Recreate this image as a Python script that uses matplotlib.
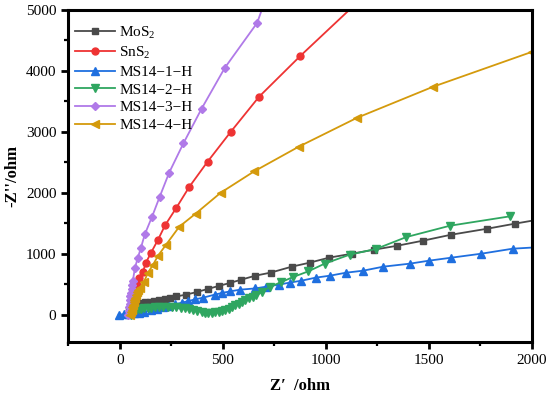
import matplotlib
matplotlib.use("Agg")
import matplotlib.pyplot as plt
from matplotlib.ticker import MultipleLocator

plt.rcParams['font.family'] = ['Liberation Serif', 'DejaVu Serif']
plt.rcParams['mathtext.fontset'] = 'custom'
plt.rcParams['mathtext.rm'] = 'Liberation Serif'

# MoS2
mos2_x = [45, 55, 65, 78, 92, 108, 125, 145, 168, 192, 218, 245, 275, 324, 373, 426, 480,
          535, 590, 658, 732, 835, 921, 1015, 1127, 1235, 1348, 1471, 1608, 1784, 1917, 2050]
mos2_y = [80, 105, 125, 145, 165, 185, 200, 215, 230, 245, 262, 280, 298, 330, 370, 420, 470,
          520, 574, 639, 689, 787, 852, 934, 1000, 1066, 1131, 1213, 1311, 1410, 1492, 1570]

# SnS2
sns2_x = [50, 53, 56, 60, 64, 68, 73, 79, 85, 93, 113, 127, 152, 186, 220, 275, 338, 426,
          539, 676, 877, 1130]
sns2_y = [10, 60, 120, 180, 240, 300, 360, 420, 490, 607, 705, 852, 1016, 1230, 1465, 1754,
          2098, 2508, 3000, 3574, 4246, 5050]

# MS14-1-H
ms1_x = [-5, 20, 45, 70, 95, 120, 150, 180, 210, 240, 270, 300, 330, 365, 405, 461, 495,
         536, 585, 657, 711, 773, 824, 882, 951, 1020, 1098, 1181, 1279, 1407, 1500, 1608,
         1755, 1907, 2050]
ms1_y = [0, 5, 12, 22, 35, 50, 70, 95, 120, 145, 170, 195, 220, 250, 279, 328, 355,
         382, 410, 430, 459, 492, 525, 557, 607, 639, 688, 721, 787, 836, 885, 934,
         1000, 1082, 1110]

# MS14-2-H
ms2_x = [55, 62, 70, 80, 92, 105, 120, 135, 152, 170, 190, 210, 234, 255, 275, 295, 315,
         335, 355, 375, 397, 415, 430, 447, 463, 480, 495, 512, 528, 545, 560, 577, 593,
         610, 626, 645, 659, 691, 727, 781, 842, 915, 994, 1116, 1243, 1391, 1603, 1892]
ms2_y = [0, 25, 50, 70, 85, 95, 103, 108, 112, 118, 122, 125, 125, 122, 118, 112, 105,
         95, 82, 65, 48, 35, 28, 30, 38, 48, 60, 80, 100, 125, 150, 180, 210,
         240, 268, 295, 317, 372, 454, 530, 618, 710, 836, 984, 1077, 1273, 1459, 1612]

# MS14-3-H
ms3_x = [42, 44, 46, 48, 50, 52, 55, 58, 61, 64, 74, 88, 103, 122, 157, 194, 240, 309,
         397, 510, 667, 705]
ms3_y = [0, 60, 120, 180, 240, 300, 360, 420, 480, 560, 770, 934, 1098, 1320, 1607, 1934,
         2330, 2810, 3377, 4049, 4787, 5150]

# MS14-4-H
ms4_x = [52, 55, 58, 61, 64, 67, 70, 74, 78, 83, 88, 98, 118, 137, 162, 186, 225, 289,
         368, 490, 652, 868, 1152, 1520, 2000]
ms4_y = [0, 40, 80, 120, 160, 200, 240, 280, 320, 370, 410, 443, 541, 688, 820, 967,
         1148, 1443, 1656, 2000, 2350, 2754, 3230, 3738, 4311]

labels = [r'MoS$_2$', r'SnS$_2$', 'MS14−1−H', 'MS14−2−H', 'MS14−3−H', 'MS14−4−H']
colors = ['#4a4a4a', '#ee3333', '#1f6fdf', '#2fa660', '#b07ae8', '#d49a0c']
markers = ['s', 'o', '^', 'v', 'D', '<']
sizes = [4.6, 5, 5.5, 5.5, 4.3, 5.5]

fig = plt.figure(figsize=(5.5, 3.95), dpi=100)
ax = fig.add_axes([0.124, 0.134, 0.843, 0.841])

series = [(mos2_x, mos2_y), (sns2_x, sns2_y), (ms1_x, ms1_y),
          (ms2_x, ms2_y), (ms3_x, ms3_y), (ms4_x, ms4_y)]
for (xs, ys), lab, c, m, s in zip(series, labels, colors, markers, sizes):
    ax.plot(xs, ys, color=c, marker=m, markersize=s, linewidth=1.3, label=lab)

ax.set_xlim(-250, 2000)
ax.set_ylim(-450, 5000)
ax.xaxis.set_major_locator(MultipleLocator(500))
ax.xaxis.set_minor_locator(MultipleLocator(250))
ax.yaxis.set_major_locator(MultipleLocator(1000))
ax.yaxis.set_minor_locator(MultipleLocator(500))

for sp in ax.spines.values():
    sp.set_linewidth(2.2)
ax.tick_params(which='major', direction='out', length=5, width=2, labelsize=11,
               top=False, right=False)
ax.tick_params(which='minor', direction='out', length=3, width=1.6,
               top=False, right=False)

ax.set_xlabel('Z′  /ohm', fontsize=12, fontweight='bold', labelpad=8)
ax.set_ylabel("-Z''/ohm", fontsize=12, fontweight='bold', labelpad=4)

ax.legend(loc='upper left', frameon=False, fontsize=11, handlelength=2.6,
          borderaxespad=0.2, labelspacing=0.26, handletextpad=0.3,
          bbox_to_anchor=(-0.005, 0.985))

fig.savefig('out.png', dpi=100)
